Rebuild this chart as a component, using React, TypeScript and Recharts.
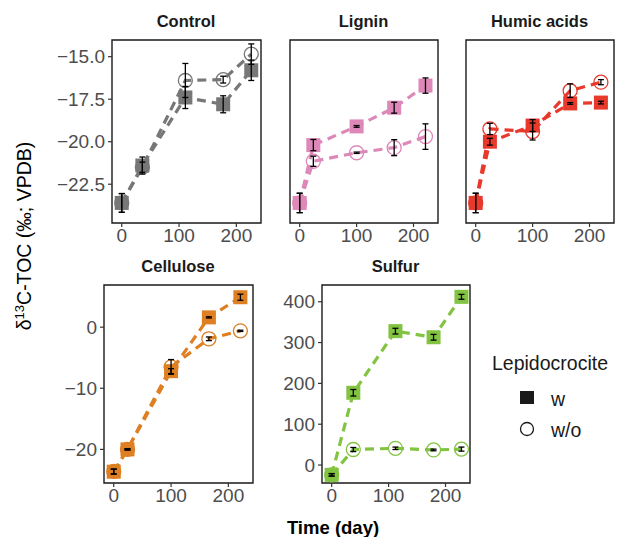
import React from 'react';
import { ComposedChart, Line, XAxis, YAxis, ErrorBar, ReferenceArea } from 'recharts';

// sampling days per treatment
const controlDays = [0, 36, 111, 177, 226];
const ligninDays = [0, 24, 100, 166, 221];
const humicDays = [0, 25, 100, 166, 220];
const celluloseDays = [0, 24, 100, 166, 221];
const sulfurDays = [0, 38, 112, 179, 228];

// delta13C-TOC, with lepidocrocite (w) and without (w/o), plus error
const controlW = [-23.6, -21.4, -17.4, -17.8, -15.8];
const controlWErr = [0.55, 0.5, 0.65, 0.5, 0.6];
const controlWo = [-23.6, -21.5, -16.4, -16.35, -14.85];
const controlWoErr = [0.55, 0.3, 1.0, 0.2, 0.6];

const ligninW = [-23.6, -20.2, -19.1, -18.0, -16.7];
const ligninWErr = [0.57, 0.33, 0.05, 0.32, 0.45];
const ligninWo = [-23.6, -21.15, -20.65, -20.35, -19.7];
const ligninWoErr = [0.57, 0.3, 0.04, 0.47, 0.75];

const humicW = [-23.6, -20.0, -19.05, -17.75, -17.7];
const humicWErr = [0.57, 0.2, 0.35, 0.05, 0.08];
const humicWo = [-23.6, -19.25, -19.4, -17.0, -16.5];
const humicWoErr = [0.57, 0.33, 0.5, 0.4, 0.15];

const celluloseW = [-23.65, -20.0, -7.2, 1.6, 4.9];
const celluloseWErr = [0.4, 0.1, 0.4, 0.1, 0.5];
const celluloseWo = [-23.6, -20.0, -6.5, -1.9, -0.6];
const celluloseWoErr = [0.4, 0.1, 1.2, 0.3, 0.1];

const sulfurW = [-24, 177, 328, 313, 412];
const sulfurWErr = [3, 8, 7, 7, 6];
const sulfurWo = [-24, 38, 41, 37, 39];
const sulfurWoErr = [3, 5, 3, 2, 5];

const xTicks = [0, 100, 200];
const topTicks = [-22.5, -20, -17.5, -15];
const celluloseTicks = [-20, -10, 0];
const sulfurTicks = [0, 100, 200, 300, 400];

const FONT = '"Liberation Sans", Arial, sans-serif';
const X_DOMAIN: [number, number] = [-17, 243];
const YAX = 70;
const XAX = 30;

const minus = (s: string) => s.replace('-', '\u2212');

const toPoints = (days: number[], ys: number[], errs: number[]) =>
  days.map((x, i) => ({ x, y: ys[i], e: errs[i] }));

interface PanelProps {
  title: string;
  left: number;
  top: number;
  plotW: number;
  plotH: number;
  yDomain: [number, number];
  yTicks: number[];
  fmt: (v: number) => string;
  showY: boolean;
  color: string;
  days: number[];
  w: number[];
  wErr: number[];
  wo: number[];
  woErr: number[];
}

function Panel(p: PanelProps) {
  const wPts = toPoints(p.days, p.w, p.wErr);
  const woPts = toPoints(p.days, p.wo, p.woErr);
  const errPts = [...woPts, ...wPts];
  const tickStyle = { fontSize: 19, fill: '#4d4d4d', fontFamily: FONT };
  const size = { width: YAX + p.plotW + 2, height: p.plotH + XAX + 1 };
  const margin = { top: 1, right: 1, left: 0, bottom: 0 };

  // same axes in both layers so the plot areas line up
  const axes = (visible: boolean) => [
    <XAxis
      key="x" dataKey="x" type="number" domain={X_DOMAIN} ticks={xTicks} allowDataOverflow
      height={XAX} axisLine={false} tickSize={4} tickMargin={2}
      tickLine={visible ? { stroke: '#333', strokeWidth: 1.2 } : false}
      tick={visible ? tickStyle : false}
    />,
    <YAxis
      key="y" type="number" domain={p.yDomain} ticks={p.yTicks} allowDataOverflow width={YAX}
      axisLine={false} tickSize={p.showY ? 4 : 0} tickMargin={3}
      tickLine={visible && p.showY ? { stroke: '#333', strokeWidth: 1.2 } : false}
      tick={visible && p.showY ? tickStyle : false}
      tickFormatter={(v: number) => minus(p.fmt(v))}
    />,
  ];

  return (
    <div style={{ position: 'absolute', left: p.left - YAX, top: p.top - 1 }}>
      <div
        style={{
          position: 'absolute', left: YAX, width: p.plotW, top: -27, textAlign: 'center',
          fontFamily: FONT, fontWeight: 'bold', fontSize: 16.5, color: '#1a1a1a',
        }}
      >
        {p.title}
      </div>
      <div style={{ position: 'absolute', left: 0, top: 0 }}>
        <ComposedChart {...size} margin={margin}>
          {axes(true)}
          <ReferenceArea
            x1={X_DOMAIN[0]} x2={X_DOMAIN[1]} y1={p.yDomain[0]} y2={p.yDomain[1]}
            fill="none" fillOpacity={0} stroke="#1a1a1a" strokeWidth={1.4} ifOverflow="visible"
          />
          <Line
            data={woPts} dataKey="y" type="linear" stroke={p.color} strokeWidth={3.2}
            strokeDasharray="9 6" isAnimationActive={false}
            dot={(d: any) => (
              <circle key={`o${d.index}`} cx={d.cx} cy={d.cy} r={7} fill="none" stroke={p.color} strokeWidth={1.3} />
            )}
          />
          <Line
            data={wPts} dataKey="y" type="linear" stroke={p.color} strokeWidth={3.2}
            strokeDasharray="9 6" isAnimationActive={false}
            dot={(d: any) => (
              <rect key={`s${d.index}`} x={d.cx - 7} y={d.cy - 7} width={14} height={14} fill={p.color} />
            )}
          />
        </ComposedChart>
      </div>
      {/* error bars on their own layer so they sit above the squares */}
      <div style={{ position: 'absolute', left: 0, top: 0 }}>
        <ComposedChart {...size} margin={margin}>
          {axes(false)}
          <Line data={errPts} dataKey="y" stroke="none" dot={false} activeDot={false} isAnimationActive={false}>
            <ErrorBar dataKey="e" width={3} stroke="#000" strokeWidth={1.3} direction="y" />
          </Line>
        </ComposedChart>
      </div>
    </div>
  );
}

export default function App() {
  const fmt1 = (v: number) => v.toFixed(1);
  const fmt0 = (v: number) => String(v);
  const topDomain: [number, number] = [-24.78, -14.02];

  return (
    <div style={{ position: 'absolute', left: 0, top: 0, width: 618, height: 537, background: '#fff', fontFamily: FONT }}>
      <Panel title="Control" left={112} top={40} plotW={148} plotH={183} yDomain={topDomain}
        yTicks={topTicks} fmt={fmt1} showY color="#777777"
        days={controlDays} w={controlW} wErr={controlWErr} wo={controlWo} woErr={controlWoErr} />
      <Panel title="Lignin" left={290} top={40} plotW={147} plotH={183} yDomain={topDomain}
        yTicks={topTicks} fmt={fmt1} showY={false} color="#dd88b9"
        days={ligninDays} w={ligninW} wErr={ligninWErr} wo={ligninWo} woErr={ligninWoErr} />
      <Panel title="Humic acids" left={466} top={40} plotW={147} plotH={183} yDomain={topDomain}
        yTicks={topTicks} fmt={fmt1} showY={false} color="#e8392d"
        days={humicDays} w={humicW} wErr={humicWErr} wo={humicWo} woErr={humicWoErr} />
      <Panel title="Cellulose" left={104} top={285} plotW={148} plotH={198} yDomain={[-25.5, 6.9]}
        yTicks={celluloseTicks} fmt={fmt0} showY color="#dd7f22"
        days={celluloseDays} w={celluloseW} wErr={celluloseWErr} wo={celluloseWo} woErr={celluloseWoErr} />
      <Panel title="Sulfur" left={322} top={285} plotW={147} plotH={198} yDomain={[-44, 441]}
        yTicks={sulfurTicks} fmt={fmt0} showY color="#82c341"
        days={sulfurDays} w={sulfurW} wErr={sulfurWErr} wo={sulfurWo} woErr={sulfurWoErr} />

      {/* y axis title */}
      <div
        style={{
          position: 'absolute', left: 24, top: 236, transform: 'translate(-50%, -50%) rotate(-90deg)',
          whiteSpace: 'nowrap', fontSize: 19.5, color: '#000',
        }}
      >
        δ<sup style={{ fontSize: 13 }}>13</sup>C-TOC (‰; VPDB)
      </div>

      {/* x axis title */}
      <div
        style={{
          position: 'absolute', left: 333, top: 528, transform: 'translate(-50%, -50%)',
          whiteSpace: 'nowrap', fontSize: 18.5, fontWeight: 'bold', color: '#000',
        }}
      >
        Time (day)
      </div>

      {/* legend */}
      <div style={{ position: 'absolute', left: 492, top: 351, fontSize: 19.5, color: '#1a1a1a', lineHeight: '24px' }}>
        Lepidocrocite
      </div>
      <svg style={{ position: 'absolute', left: 515, top: 386 }} width={24} height={56}>
        <rect x={5} y={5} width={14} height={13} fill="#1a1a1a" />
        <circle cx={12} cy={43} r={6.5} fill="none" stroke="#1a1a1a" strokeWidth={1.3} />
      </svg>
      <div style={{ position: 'absolute', left: 551, top: 387, fontSize: 19.5, color: '#1a1a1a', lineHeight: '24px' }}>w</div>
      <div style={{ position: 'absolute', left: 551, top: 418, fontSize: 19.5, color: '#1a1a1a', lineHeight: '24px' }}>w/o</div>
    </div>
  );
}
